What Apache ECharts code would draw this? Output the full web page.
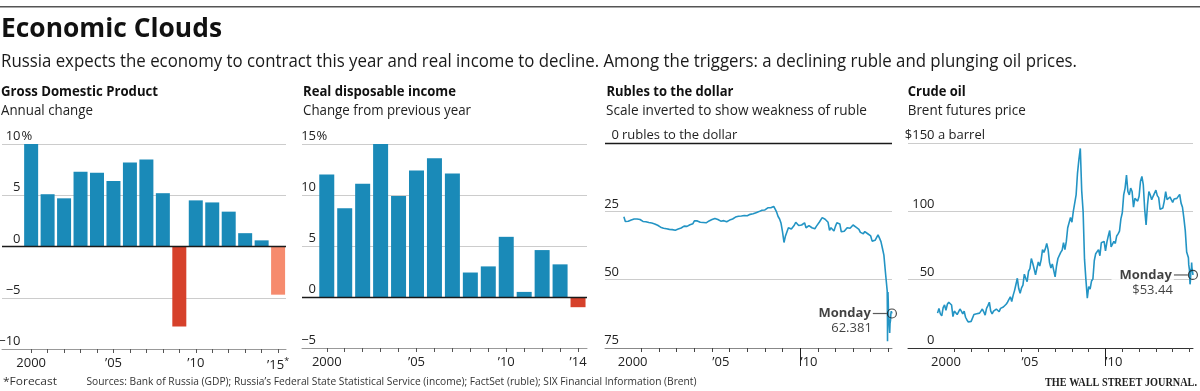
<!DOCTYPE html>
<html><head><meta charset="utf-8">
<script src="https://cdn.jsdelivr.net/npm/echarts@6/dist/echarts.min.js"></script>
<style>html,body{margin:0;padding:0;background:#fff}#c{width:1200px;height:391px}</style>
</head><body><div id="c"></div>
<script>
// ---------------- DATA ----------------
const gdpYears = [2000,2001,2002,2003,2004,2005,2006,2007,2008,2009,2010,2011,2012,2013,2014,2015];
const gdpValues = [10.0,5.1,4.7,7.3,7.2,6.4,8.2,8.5,5.2,-7.8,4.5,4.3,3.4,1.3,0.6,-4.7];
const gdpForecastYears = [2015];
const gdpTickYears = [2000,2005,2010,2015];
const gdpTickLabels = ['2000',"’05","’10","’15{s|*}"];

const incomeYears = [2000,2001,2002,2003,2004,2005,2006,2007,2008,2009,2010,2011,2012,2013,2014];
const incomeValues = [12.0,8.7,11.1,15.0,9.9,12.4,13.6,12.1,2.4,3.0,5.9,0.5,4.6,3.2,-1.0];
const incomeTickYears = [2000,2005,2010,2014];
const incomeTickLabels = ['2000',"’05","’10","’14"];

// monthly, Jan 2000 .. Nov 2014
const rubleStart = 2000;
const rubleMonthly = [
 27.0,28.7,28.5,28.6,28.4,28.2,27.9,27.8,27.8,27.8,27.8,28.0,
 28.3,28.7,28.7,28.8,29.0,29.1,29.2,29.3,29.4,29.6,29.8,30.1,
 30.6,30.8,31.0,31.2,31.3,31.4,31.5,31.6,31.7,31.7,31.8,31.9,
 31.8,31.5,31.4,31.1,30.8,30.4,30.4,30.5,30.6,29.9,29.7,29.5,
 28.5,28.5,28.5,28.7,29.0,29.0,29.1,29.2,29.2,28.9,28.5,27.9,
 28.0,27.9,27.6,27.8,28.0,28.6,28.6,28.5,28.4,28.6,28.8,28.8,
 28.2,28.1,27.8,27.6,27.1,26.9,26.8,26.7,26.7,26.8,26.5,26.3,
 26.6,26.3,26.1,25.8,25.9,25.8,25.5,25.6,25.1,24.9,24.6,24.6,
 24.5,24.4,23.7,23.6,23.7,23.4,23.2,24.2,25.3,26.9,27.8,29.4,
 32.5,36.4,34.0,33.5,31.0,31.0,31.5,31.6,30.1,29.0,29.0,30.2,
 30.0,30.0,29.5,29.2,31.0,31.2,30.2,30.5,31.0,30.7,31.4,30.5,
 29.8,29.0,28.4,27.3,28.0,27.9,28.0,29.0,32.0,31.0,31.0,32.2,
 30.5,29.2,29.4,29.6,32.5,32.9,32.3,31.8,31.0,31.4,31.2,30.5,
 30.0,30.2,30.8,31.2,31.6,32.7,32.7,33.2,32.4,32.1,33.2,32.9,
 34.0,35.9,36.2,35.6,34.6,33.6,34.8,36.1,38.5,41.0,47.0
];
const rubleTailDates = [2014.917,2014.937,2014.953,2014.956,2014.962,2014.970,2014.981,2014.997,2015.011,2015.030,2015.044,2015.060,2015.079,2015.099,2015.123,2015.145,2015.170,2015.205];
const rubleTailValues = [52.7,54.0,65.0,72.5,61.0,60.0,54.5,58.0,62.0,64.5,64.0,67.5,69.5,66.0,65.0,62.5,61.5,62.381];

const oilStart = 2000;
const oilMonthly = [
 25.5,29.0,25.0,23.5,29.5,31.5,27.5,32.0,33.5,32.5,31.5,23.0,
 27.0,28.0,24.5,26.5,28.5,27.0,25.0,27.0,22.5,20.5,19.0,19.5,
 19.5,20.5,24.5,25.5,25.0,24.0,25.5,27.0,28.5,26.5,24.0,29.0,
 31.0,33.5,27.0,25.0,27.0,28.0,28.5,29.5,26.5,29.0,29.5,30.0,
 31.0,32.0,33.5,33.0,37.5,34.0,38.5,42.0,46.5,51.0,43.5,40.0,
 44.0,46.0,54.0,51.0,48.5,56.0,58.0,65.5,62.0,58.0,53.5,58.5,
 63.0,60.0,64.5,72.0,70.0,72.5,76.5,72.0,62.5,58.5,61.5,61.0,
 52.0,60.0,65.5,66.5,70.0,71.5,77.0,72.0,78.0,88.0,89.0,95.5,
 92.0,100.0,100.5,112.0,128.0,138.0,146.0,115.0,100.0,65.0,50.0,36.5,
 45.0,43.0,49.0,50.5,64.0,69.0,69.5,72.0,67.5,77.0,77.5,78.0,
 71.0,77.5,82.0,86.0,74.0,76.0,78.0,76.5,82.0,83.5,85.5,94.5,
 99.0,112.0,117.0,126.5,114.5,112.0,117.0,114.5,103.0,109.5,110.5,107.5,
 111.0,122.0,125.5,119.5,101.5,90.0,104.5,114.5,112.0,108.5,111.0,111.0,
 115.5,111.5,110.0,101.5,100.5,102.5,107.5,114.5,108.5,108.5,110.5,110.8,
 106.5,109.0,107.8,109.5,109.5,112.4,106.0,103.0,95.0,85.9,70.2
];
const oilTailDates = [2014.917,2014.937,2014.956,2014.975,2014.997,2015.016,2015.033,2015.052,2015.074,2015.090,2015.110,2015.129,2015.148,2015.167,2015.186,2015.197,2015.205];
const oilTailValues = [70.5,66.0,61.0,60.0,57.3,51.0,46.6,48.5,48.5,57.9,56.4,62.5,58.7,59.5,58.5,54.7,53.44];

const lineTickYears = [2001,2002,2003,2004,2005,2006,2007,2008,2009,2010,2011,2012,2013,2014,2015];
const lineLabelPos = [2000.5,2005.5,2010.5];
const lineLabelText = ['2000',"’05","’10"];
const markerLabel = 'Monday';

// ---------------- STYLE ----------------
const FAM = '"Open Sans","Noto Sans",sans-serif';
const BLUE = '#1a8ab8', RED = '#d6412b', SALMON = '#f68b6e', LINEC = '#2394c4';
const GRIDC = '#cccccc', TXT = '#222';

function monthly(start, arr, tailD, tailV) {
  const out = arr.map((v, i) => [start + i / 12, v]);
  tailD.forEach((d, i) => out.push([d, tailV[i]]));
  return out;
}
const rubleData = monthly(rubleStart, rubleMonthly, rubleTailDates, rubleTailValues);
const oilData = monthly(oilStart, oilMonthly, oilTailDates, oilTailValues);

function barColor(year, v, forecast) {
  if (forecast.indexOf(year) >= 0) return SALMON;
  return v < 0 ? RED : BLUE;
}
const minus = v => (v < 0 ? '−' + Math.abs(v) : String(v));

const grids = [
  {left: 2, top: 144, width: 284, height: 205},
  {left: 302, top: 144, width: 285, height: 204},
  {left: 605, top: 143, width: 287, height: 205},
  {left: 908, top: 143, width: 285, height: 205}
];
grids.forEach(g => { g.outerBoundsMode = 'none'; g.containLabel = false; });

const axLabel = {fontFamily: FAM, fontSize: 13, color: TXT};

function barX(gi, min, max, years, tickYears, tickLabels) {
  return {type: 'value', gridIndex: gi, min, max, position: 'bottom',
    axisLine: {show: true, onZero: false, lineStyle: {color: '#999', width: 1}},
    axisTick: {show: true, customValues: years, length: 4, lineStyle: {color: '#555'}},
    axisLabel: Object.assign({}, axLabel, {customValues: tickYears, margin: 8,
      formatter: v => { const i = tickYears.indexOf(v); return i >= 0 ? tickLabels[i] : ''; },
      rich: {s: {fontFamily: FAM, fontSize: 9, color: TXT, padding: [0, 0, 7, 0]}}}),
    splitLine: {show: false}};
}
function lineX(gi, min, max, axisColor) {
  return {type: 'value', gridIndex: gi, min, max, position: 'bottom',
    axisLine: {show: true, onZero: false, lineStyle: {color: axisColor, width: 1}},
    axisTick: {show: true, customValues: lineTickYears, length: 4, lineStyle: {color: '#444'}},
    axisLabel: Object.assign({}, axLabel, {customValues: lineLabelPos, margin: 8,
      formatter: v => { const i = lineLabelPos.indexOf(v); return i >= 0 ? lineLabelText[i] : ''; }}),
    splitLine: {show: false}};
}
function longTickX(gi, min, max) {
  return {type: 'value', gridIndex: gi, min, max, position: 'bottom',
    axisLine: {show: false, onZero: false},
    axisTick: {show: true, customValues: [2010], length: 18, lineStyle: {color: '#222', width: 1}},
    axisLabel: {show: false}, splitLine: {show: false}};
}
function yAx(gi, min, max, interval, margin, topFmt, name, namePad, inverse, nameLoc) {
  const topVal = inverse ? min : max;
  return {type: 'value', gridIndex: gi, min, max, interval, inverse: !!inverse, position: 'left',
    axisLine: {show: false}, axisTick: {show: false},
    splitLine: {show: true, lineStyle: {color: GRIDC, width: 1}},
    axisLabel: Object.assign({}, axLabel, {inside: true, align: 'right', verticalAlign: 'bottom', margin,
      padding: [0, 0, 1, 0],
      formatter: v => (v === topVal ? topFmt(v) : minus(v))}),
    name, nameLocation: nameLoc, nameGap: 0, nameMoveOverlap: false,
    nameTextStyle: Object.assign({}, axLabel, {align: 'left', verticalAlign: 'bottom', padding: [0, 0, 1, namePad]})};
}

const zeroLine = {silent: true, symbol: ['none', 'none'], label: {show: false},
  lineStyle: {color: '#1a1a1a', width: 1.3, type: 'solid'}, data: [{yAxis: 0}]};

function marker(xi, yi, data, valText, withBg) {
  const last = data[data.length - 1];
  const bg = withBg ? '#fff' : 'transparent';
  return {type: 'scatter', xAxisIndex: xi, yAxisIndex: yi, silent: true, z: 5,
    data: [last], symbol: 'circle', symbolSize: 9,
    itemStyle: {color: 'rgba(255,255,255,0)', borderColor: '#1a1a1a', borderWidth: 1.2},
    label: {show: true, position: 'left', distance: 0, offset: [0, 7.5],
      formatter: () => '{m|' + markerLabel + '}{c|}\n{v|' + valText(last[1]) + '}{s|}',
      rich: {
        m: {fontFamily: FAM, fontWeight: 'bold', fontSize: 13, color: '#111', lineHeight: 15, padding: [0, 2, 0, withBg ? 8 : 0], backgroundColor: bg},
        c: {width: 14, height: 1.2, backgroundColor: '#333'},
        v: {fontFamily: FAM, fontSize: 13, color: '#111', lineHeight: 15, align: 'right', backgroundColor: bg, padding: [0, 0, 0, withBg ? 4 : 0]},
        s: {width: 15, align: 'right'}
      }}};
}

// ---------------- TEXT ----------------
const mctx = document.createElement('canvas').getContext('2d');
function txt(text, x, y, size, weight, w, fam, fill) {
  const f = fam || FAM;
  mctx.font = weight + ' ' + size + 'px ' + f;
  const m = mctx.measureText(text).width;
  return {type: 'text', x, y, scaleX: w ? w / m : 1, silent: true,
    style: {text, fontFamily: f, fontSize: size, fontWeight: weight, fill: fill || '#111', align: 'left', verticalAlign: 'middle'}};
}
const graphics = [
  {type: 'rect', silent: true, shape: {x: 0, y: 6, width: 1200, height: 1.5}, style: {fill: '#555'}},
  txt('Economic Clouds', 1, 29, 27, 'bold', 221),
  txt('Russia expects the economy to contract this year and real income to decline. Among the triggers: a declining ruble and plunging oil prices.', 1, 61.5, 18, 'normal', 1076, null, '#1a1a1a'),
  txt('Gross Domestic Product', 1, 92, 15, 'bold', 157),
  txt('Real disposable income', 303, 92, 15, 'bold', 153),
  txt('Rubles to the dollar', 606.5, 92, 15, 'bold', 127),
  txt('Crude oil', 907.7, 92, 15, 'bold', 58),
  txt('Annual change', 1, 110.5, 14.5, 'normal', 92, null, '#222'),
  txt('Change from previous year', 303, 110.5, 14.5, 'normal', 168, null, '#222'),
  txt('Scale inverted to show weakness of ruble', 606, 110.5, 14.5, 'normal', 261, null, '#222'),
  txt('Brent futures price', 907.7, 110.5, 14.5, 'normal', 118, null, '#222'),
  txt('*Forecast', 3, 381.5, 11, 'normal', 54, null, '#333'),
  txt('Sources: Bank of Russia (GDP); Russia’s Federal State Statistical Service (income); FactSet (ruble); SIX Financial Information (Brent)', 86.5, 381.5, 11, 'normal', 610, null, '#333'),
  txt('THE WALL STREET JOURNAL.', 1045, 383, 12.5, 'bold', 152, '"Liberation Serif","DejaVu Serif",serif', '#222')
];

// ---------------- OPTION ----------------
const option = {
  animation: false,
  backgroundColor: '#fff',
  grid: grids,
  xAxis: [
    barX(0, 1998.23, 2015.48, gdpYears, gdpTickYears, gdpTickLabels),
    barX(1, 1998.62, 2014.5, incomeYears, incomeTickYears, incomeTickLabels),
    lineX(2, 1998.93, 2015.21, '#888'),
    lineX(3, 1998.24, 2015.21, '#333'),
    longTickX(2, 1998.93, 2015.21),
    longTickX(3, 1998.24, 2015.21)
  ],
  yAxis: [
    yAx(0, -10, 10, 5, 18.5, v => String(v), '%', 19.5, false, 'end'),
    yAx(1, -5, 15, 5, 14, v => String(v), '%', 14.5, false, 'end'),
    yAx(2, 0, 75, 25, 14, v => String(v), 'rubles to the dollar', 17, true, 'start'),
    yAx(3, 0, 150, 50, 26.5, v => '$' + v, 'a barrel', 30, false, 'end')
  ],
  graphic: {elements: graphics},
  series: [
    {type: 'bar', xAxisIndex: 0, yAxisIndex: 0, barWidth: 14, silent: true,
      data: gdpYears.map((y, i) => ({value: [y, gdpValues[i]], itemStyle: {color: barColor(y, gdpValues[i], gdpForecastYears)}})),
      markLine: zeroLine},
    {type: 'bar', xAxisIndex: 1, yAxisIndex: 1, barWidth: 15, silent: true,
      data: incomeYears.map((y, i) => ({value: [y, incomeValues[i]], itemStyle: {color: barColor(y, incomeValues[i], [])}})),
      markLine: zeroLine},
    {type: 'line', xAxisIndex: 2, yAxisIndex: 2, data: rubleData, showSymbol: false, silent: true,
      lineStyle: {color: LINEC, width: 1.6}, markLine: zeroLine},
    {type: 'line', xAxisIndex: 3, yAxisIndex: 3, data: oilData, showSymbol: false, silent: true,
      lineStyle: {color: LINEC, width: 1.6}},
    marker(2, 2, rubleData, v => v.toFixed(3), false),
    marker(3, 3, oilData, v => '$' + v.toFixed(2), true)
  ]
};
const chart = echarts.init(document.getElementById('c'), null, {renderer: 'canvas'});
chart.setOption(option);
</script>
</body></html>
